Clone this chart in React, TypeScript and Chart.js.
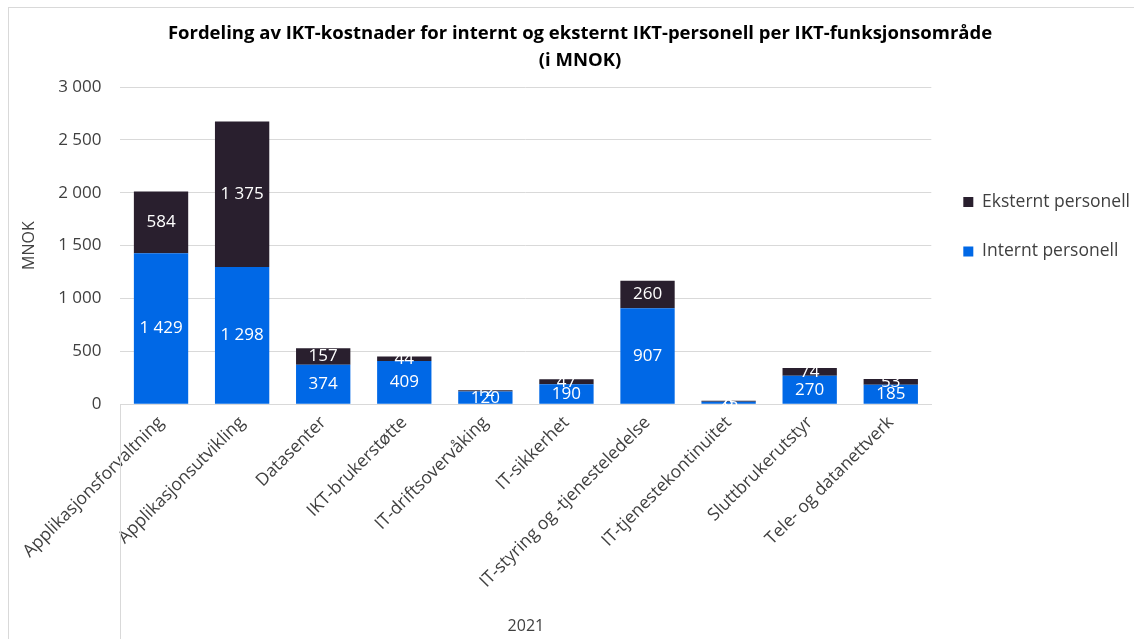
import React, { useEffect, useRef } from "react";
import { Chart, registerables } from "chart.js";

Chart.register(...registerables);

const categories = [
  "Applikasjonsforvaltning",
  "Applikasjonsutvikling",
  "Datasenter",
  "IKT-brukerstøtte",
  "IT-driftsovervåking",
  "IT-sikkerhet",
  "IT-styring og -tjenesteledelse",
  "IT-tjenestekontinuitet",
  "Sluttbrukerutstyr",
  "Tele- og datanettverk",
];
const interntPersonell = [1429, 1298, 374, 409, 120, 190, 907, 25, 270, 185];
const eksterntPersonell = [584, 1375, 157, 44, 12, 47, 260, 8, 74, 53];
const groupLabel = "2021";
const titleLines = [
  "Fordeling av IKT-kostnader for internt og eksternt IKT-personell per IKT-funksjonsområde",
  "(i MNOK)",
];

const BLUE = "#0068E6";
const DARK = "#291F2E";
const FONT = "'Open Sans', 'Noto Sans', sans-serif";

const fmt = (n: number) =>
  String(Math.round(n)).replace(/\B(?=(\d{3})+(?!\d))/g, " ");

const labelPlugin = {
  id: "segLabels",
  afterDatasetsDraw(chart: any) {
    const ctx = chart.ctx;
    ctx.save();
    const xs = chart.scales.x;
    ctx.strokeStyle = "#d9d9d9";
    ctx.lineWidth = 1;
    ctx.beginPath();
    ctx.moveTo(Math.round(xs.left) + 0.5, xs.top);
    ctx.lineTo(Math.round(xs.left) + 0.5, chart.height);
    ctx.stroke();
    ctx.font = `17px ${FONT}`;
    ctx.fillStyle = "#ffffff";
    ctx.textAlign = "center";
    ctx.textBaseline = "middle";
    chart.data.datasets.forEach((ds: any, i: number) => {
      const meta = chart.getDatasetMeta(i);
      meta.data.forEach((bar: any, j: number) => {
        const p = bar.getProps(["x", "y", "base"], true);
        ctx.fillText(fmt(ds.data[j]), p.x, (p.y + p.base) / 2);
      });
    });
    ctx.restore();
  },
};

export default function App() {
  const ref = useRef<HTMLCanvasElement>(null);
  useEffect(() => {
    document.body.style.margin = "0";
    const chart = new Chart(ref.current!, {
      type: "bar",
      data: {
        labels: categories,
        datasets: [
          {
            label: "Internt personell",
            data: interntPersonell,
            backgroundColor: BLUE,
            barPercentage: 0.67,
            categoryPercentage: 1,
          },
          {
            label: "Eksternt personell",
            data: eksterntPersonell,
            backgroundColor: DARK,
            barPercentage: 0.67,
            categoryPercentage: 1,
          },
        ],
      },
      options: {
        animation: false,
        responsive: true,
        maintainAspectRatio: false,
        layout: { padding: { left: 20, right: -6, top: 8, bottom: 3 } },
        scales: {
          x: {
            stacked: true,
            grid: { display: false },
            border: { display: true, color: "#d9d9d9" },
            ticks: {
              autoSkip: false,
              maxRotation: 45,
              minRotation: 45,
              padding: 0,
              color: "#404040",
              font: { family: FONT, size: 17.5 },
            },
            title: {
              display: true,
              text: groupLabel,
              color: "#404040",
              font: { family: FONT, size: 16 },
              padding: { top: 25, bottom: 0 },
            },
          },
          y: {
            stacked: true,
            min: 0,
            max: 3000,
            ticks: {
              stepSize: 500,
              color: "#404040",
              font: { family: FONT, size: 17 },
              padding: 19,
              callback: (v: any) => fmt(Number(v)),
            },
            grid: { color: "#d9d9d9", drawTicks: false },
            border: { display: false },
            title: {
              display: true,
              text: "MNOK",
              color: "#404040",
              font: { family: FONT, size: 16 },
              padding: { top: 0, bottom: 0 },
            },
          },
        },
        plugins: {
          title: {
            display: true,
            text: titleLines,
            color: "#000000",
            font: { family: FONT, size: 18.5, weight: "bold", lineHeight: 1.46 },
            padding: { top: 12, bottom: 13 },
          },
          legend: {
            position: "right",
            align: "start",
            reverse: true,
            title: {
              display: true,
              text: " ",
              font: { family: FONT, size: 16 },
              padding: { top: 0, bottom: 134 },
            },
            labels: {
              boxWidth: 10,
              boxHeight: 10,
              padding: 32,
              color: "#404040",
              font: { family: FONT, size: 17.5 },
            },
          },
          tooltip: { enabled: false },
        },
      },
      plugins: [labelPlugin],
    });
    return () => chart.destroy();
  }, []);
  return (
    <div style={{ position: "relative", width: 1134, height: 639 }}>
      <div
        style={{
          position: "absolute",
          left: 8,
          top: 7,
          right: -2,
          bottom: -2,
          border: "1px solid #d9d9d9",
          pointerEvents: "none",
        }}
      />
      <canvas ref={ref} />
    </div>
  );
}
